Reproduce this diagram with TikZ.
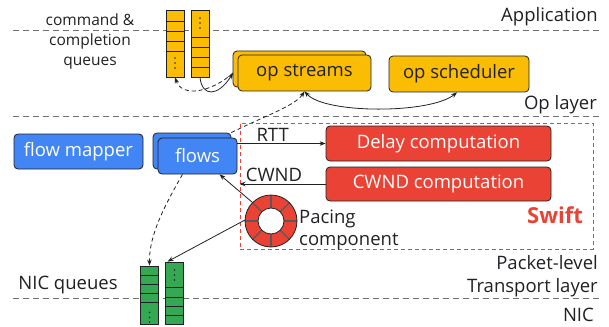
\documentclass[tikz,border=0pt]{standalone}
\usepackage{fontspec}
\setmainfont{Open Sans}
\usetikzlibrary{arrows.meta}
\definecolor{gy}{HTML}{FBBC04}
\definecolor{gb}{HTML}{4285F4}
\definecolor{gr}{HTML}{EA4335}
\definecolor{gg}{HTML}{34A853}
\definecolor{ink}{HTML}{202124}
\definecolor{lane}{HTML}{707070}
\tikzset{
  txt/.style={font=\fontsize{18.5}{22}\selectfont, text=ink, inner sep=0pt},
  small/.style={font=\fontsize{15.5}{20}\selectfont, text=ink, inner sep=0pt, align=center},
  lanel/.style={draw=lane, line width=1pt, dash pattern=on 6pt off 4pt},
  boxb/.style={rounded corners=4pt, draw=ink, line width=0.8pt, minimum height=36pt, inner sep=0pt, font=\fontsize{18.5}{22}\selectfont},
  ybox/.style={boxb, fill=gy, text=ink},
  bbox/.style={boxb, fill=gb, text=white},
  rbox/.style={boxb, fill=gr, text=white},
  queue/.style={draw=ink, line width=0.8pt, minimum width=18pt, inner sep=0pt},
  arr/.style={draw=ink, line width=0.8pt, -{Stealth[length=6pt,width=4.5pt]}},
  darr/.style={arr, dash pattern=on 4pt off 3pt},
}
\begin{document}
\begin{tikzpicture}[x=1pt,y=-1pt]
\useasboundingbox (0,0) rectangle (609,326);
% lanes
\coordinate (l1a) at (13,31); \coordinate (l1b) at (600,31);
\coordinate (l2a) at (13,116); \coordinate (l2b) at (600,116);
\coordinate (l3a) at (13,298); \coordinate (l3b) at (600,298);
\draw[lanel] (l1a) -- (l1b);
\draw[lanel] (l2a) -- (l2b);
\draw[lanel] (l3a) -- (l3b);
% layer labels
\node[txt, anchor=east] (app) at (598,17) {Application};
\node[txt, anchor=east] (opl) at (597,105) {Op layer};
\node[txt, anchor=east] (pkl) at (598,263) {Packet-level};
\node[txt, anchor=east] (tpl) at (598,288) {Transport layer};
\node[txt, anchor=east] (nic) at (594,315) {NIC};
% command queues
\node[small] (cqt) at (90,41) {command \&\\completion\\queues};
\node[queue, fill=gy, minimum height=67pt] (cq1) at (175,43.5) {};
\node[queue, fill=gy, minimum height=67pt] (cq2) at (200,43.5) {};
\foreach \y in {21,31,41,51} \draw[ink, line width=0.8pt] (166,\y) -- (184,\y);
\foreach \y in {37,47,57,67} \draw[ink, line width=0.8pt] (191,\y) -- (209,\y);
\foreach \y in {58,63,68} \fill[ink] (175,\y) circle (0.9pt);
\foreach \y in {18,23,28} \fill[ink] (200,\y) circle (0.9pt);
% op layer
\node[ybox, minimum width=133pt] (opsB) at (299.5,69) {};
\node[ybox, minimum width=133pt] (opsF) at (304.5,73) {op streams};
\node[ybox, minimum width=140pt] (opsch) at (459,74) {op scheduler};
\draw[arr, {Stealth[length=6pt,width=4.5pt]}-{Stealth[length=6pt,width=4.5pt]}] (opsF.south) .. controls (325,114) and (430,114) .. ([xshift=-2pt]opsch.south);
\coordinate (opsL) at (233,73);
\draw[arr] (cq2.south) .. controls (202,97) and (218,97) .. (opsL);
\draw[darr] (opsL) .. controls (212,92) and (182,98) .. (cq1.south);
% flows
\node[bbox, minimum width=129pt, minimum height=35pt] (fm) at (78.5,151.5) {flow mapper};
\node[bbox, minimum width=78pt] (flB) at (192,151) {};
\node[bbox, minimum width=79pt] (flF) at (197.5,156) {flows};
\draw[darr] (flB.north east) .. controls (262,117) and (295,106) .. (opsF.south);
% swift
\node[draw=gr, line width=1pt, dash pattern=on 4pt off 3pt, minimum width=353pt, minimum height=126pt, inner sep=0pt] (swift) at (416.5,186) {};
\node[rbox, minimum width=225pt, minimum height=35pt] (delay) at (438.5,143.5) {Delay computation};
\node[rbox, minimum width=225pt, minimum height=34pt] (cwndc) at (438.5,184) {CWND computation};
\node[font=\fontsize{22}{26}\selectfont\bfseries, text=gr, inner sep=0pt] (swt) at (555,215) {Swift};
\draw[arr] (flF.east |- delay.west) -- (delay.west) node[pos=0.4, above=2pt, txt] (rtt) {RTT};
\coordinate (cwin) at (swift.west |- cwndc.west);
\draw[arr] (cwndc.west) -- (cwin) node[pos=0.6, above=2pt, txt] (cwl) {CWND};
% pacing ring
\node[circle, minimum size=52pt, inner sep=0pt] (ring) at (271,221) {};
\fill[gr] (271,221) circle (26pt);
\foreach \a in {0,45,...,315} \draw[black!65, line width=1.3pt] (271,221) ++(\a:13pt) -- ++(\a:13pt);
\draw[ink, line width=0.8pt] (271,221) circle (26pt);
\draw[ink, line width=0.8pt, fill=white] (271,221) circle (13pt);
\node[txt, anchor=west, align=left] (pct) at (299,229.5) {Pacing\\component};
\draw[arr] (ring.135) -- ([xshift=22pt]flF.south);
% NIC queues
\node[txt] (nqt) at (68,285) {NIC queues};
\node[queue, fill=gg, minimum height=58pt] (nq1) at (149.5,295) {};
\node[queue, fill=gg, minimum height=62pt] (nq2) at (174.5,293) {};
\foreach \y in {275,284,293,302} \draw[ink, line width=0.8pt] (140.5,\y) -- (158.5,\y);
\foreach \y in {287,297,306,315} \draw[ink, line width=0.8pt] (165.5,\y) -- (183.5,\y);
\foreach \y in {312.5,317.5,322} \fill[ink] (149.5,\y) circle (0.9pt);
\foreach \y in {270,275,280} \fill[ink] (174.5,\y) circle (0.9pt);
\draw[arr] (ring.178) -- ([xshift=-7pt]nq2.north);
\draw[darr] ([xshift=-15pt]flF.south) .. controls (165,205) and (149,235) .. (nq1.north);
\end{tikzpicture}
\end{document}
